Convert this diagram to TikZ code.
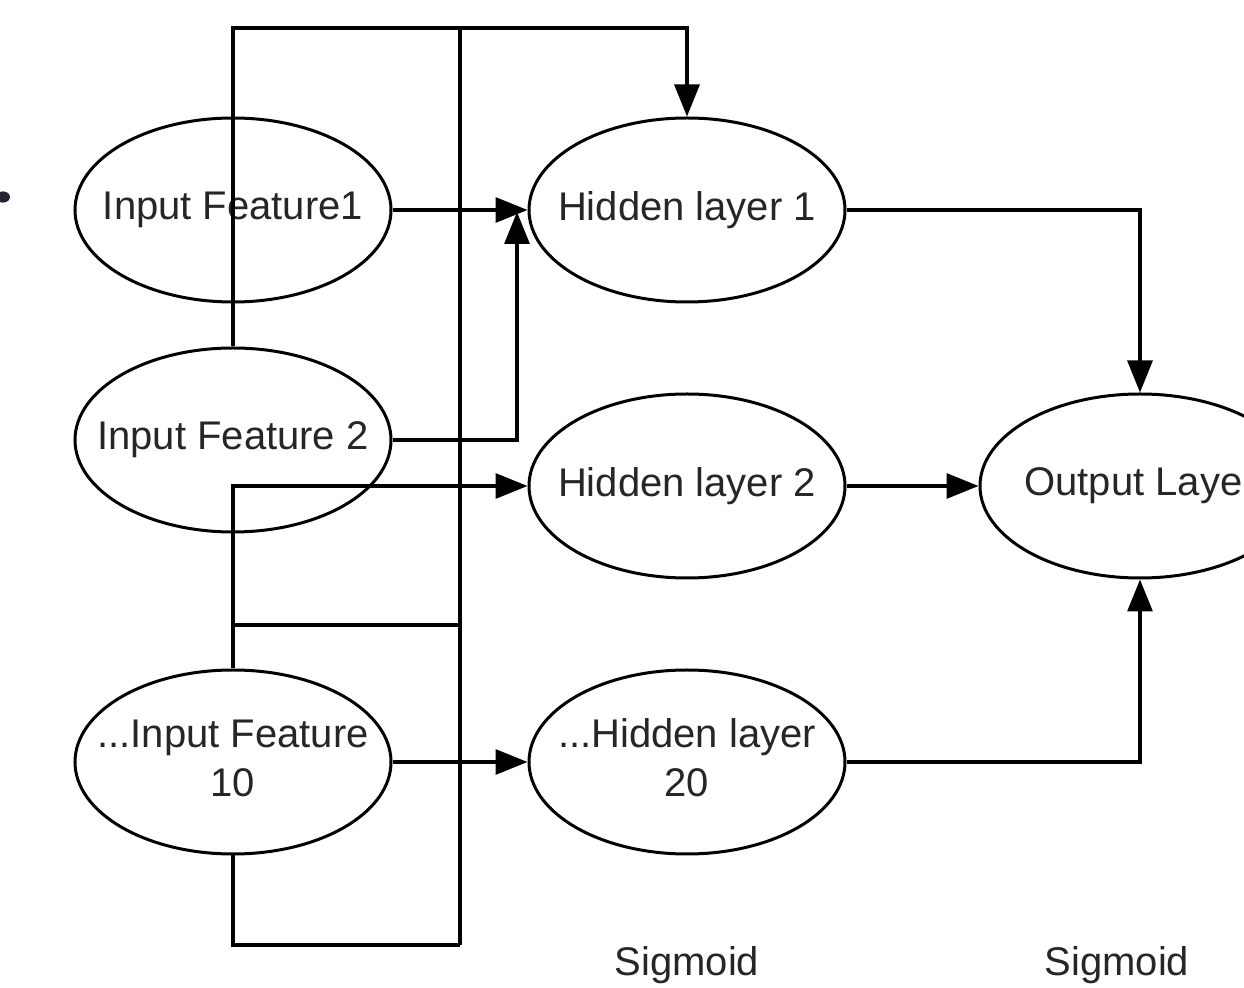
\documentclass[tikz,border=0pt]{standalone}
\usepackage{fontspec}
\setmainfont{Liberation Sans}
\usetikzlibrary{shapes.geometric,arrows.meta}
\definecolor{ink}{RGB}{35,35,50}
\begin{document}
\begin{tikzpicture}[x=0.5pt,y=-0.5pt,
  neuron/.style={draw, ellipse, line width=1.5pt, minimum width=158pt,
    minimum height=92pt, inner sep=0pt},
  neurontext/.style={align=center, inner sep=0pt,
    font=\fontsize{20}{24.5}\selectfont, text=black!85},
  link/.style={line width=1.6pt},
  arr/.style={link, -{Triangle[length=16pt,width=12.5pt]}},
  caption/.style={font=\fontsize{20}{24}\selectfont, text=black!85}]
\useasboundingbox (0,0) rectangle (1244,988);
\clip (0,0) rectangle (1244,988);

% input layer
\node[neuron, label={[neurontext]center:Input Feature1}] (in1) at (233,210) {};
\node[neuron, label={[neurontext]center:Input Feature 2}] (in2) at (233,440) {};
\node[neuron, label={[neurontext, yshift=2pt]center:...Input Feature\\10}] (in10) at (233,762) {};

% hidden layer
\node[neuron, label={[neurontext]center:Hidden layer 1}] (h1) at (687,210) {};
\node[neuron, label={[neurontext]center:Hidden layer 2}] (h2) at (687,486) {};
\node[neuron, label={[neurontext, yshift=2pt]center:...Hidden layer\\20}] (h20) at (687,762) {};

% output layer
\node[neuron, minimum width=160pt, label={[neurontext]center:Output Layer}] (out) at (1140,486) {};

% activation captions
\node[caption] (sig1) at (687,965) {Sigmoid};
\node[caption] (sig2) at (1117,965) {Sigmoid};

% routing points
\coordinate (bustop) at (460,28);
\coordinate (busbottom) at (460,945);
\coordinate (tap) at (233,625);
\coordinate (busmid) at (460,625);
\coordinate (joint) at (517,212);

% input to hidden connections
\draw[arr] (in2.north) |- (bustop) -| (h1.north);
\draw[link] (bustop) -- (busbottom);
\draw[link] (in10.south) |- (busbottom);
\draw[link] (tap) -- (busmid);
\draw[arr] (in10.north) |- (h2.west);
\draw[arr] (in1.east) -- (h1.west);
\draw[arr] (in2.east) -| (joint);
\draw[arr] (in10.east) -- (h20.west);

% hidden to output connections
\draw[arr] (h1.east) -| (out.north);
\draw[arr] (h2.east) -- (out.west);
\draw[arr] (h20.east) -| (out.south);

% small mark at the left edge
\fill[ink] (3,197) ellipse [x radius=3.5pt, y radius=2.8pt];
\end{tikzpicture}
\end{document}
